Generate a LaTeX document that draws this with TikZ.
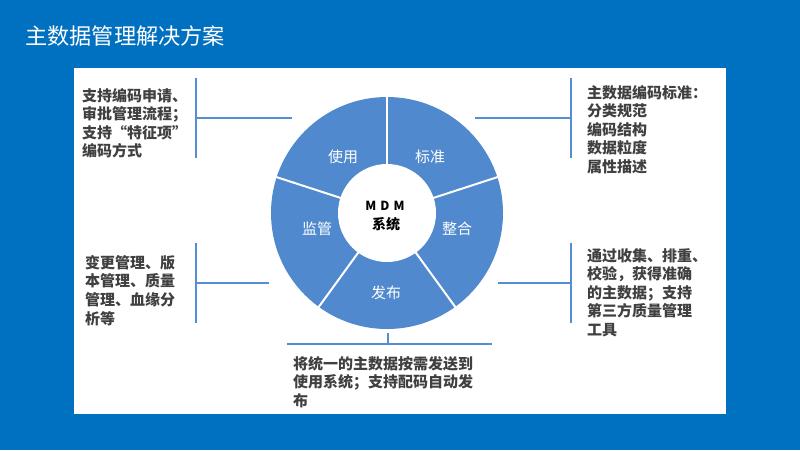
\documentclass[tikz,border=0pt]{standalone}
\usepackage{fontspec}
\setmainfont{Noto Sans CJK SC}
\definecolor{bgblue}{RGB}{0,112,192}
\definecolor{segblue}{RGB}{80,137,205}
\definecolor{lineblue}{RGB}{84,141,212}
\definecolor{txtgray}{RGB}{64,64,64}
\tikzset{
  desc/.style={anchor=north west, inner sep=0pt, align=left, text=txtgray,
    font=\fontsize{15}{18.6}\selectfont\bfseries},
  seglabel/.style={text=white, inner sep=0pt, font=\fontsize{15}{17}\selectfont},
  conn/.style={draw=lineblue, line width=1.8pt},
}
\begin{document}
\begin{tikzpicture}[x=1pt,y=-1pt]
\fill[bgblue] (0,0) rectangle (800,450);
\useasboundingbox (0,0) rectangle (800,450);
\fill[white] (74,68) rectangle (726,414);
\node[anchor=west, text=white, inner sep=0pt, font=\fontsize{22.2}{26}\selectfont] (title) at (25,36) {主数据管理解决方案};

% wheel
\begin{scope}[shift={(387,213)}, yscale=-1]
  \fill[segblue] (0,0) circle (116);
  \foreach \a in {90,18,-54,-126,162}
    \draw[white, line width=2pt] (\a:40) -- (\a:118);
  \fill[white] (0,0) circle (49);
  \coordinate (wc) at (0,0);
\end{scope}
\node[seglabel] (use) at (343,157) {使用};
\node[seglabel] (std) at (430,157) {标准};
\node[seglabel] (int) at (457,229) {整合};
\node[seglabel] (pub) at (386,293) {发布};
\node[seglabel] (mon) at (317,229) {监管};
\node[inner sep=0pt, font=\fontsize{12.5}{13}\selectfont\bfseries] (mdm) at (385,206) {M\,\,D\,\,M};
\node[inner sep=0pt, font=\fontsize{14}{15}\selectfont\bfseries] (sys) at (386,224) {系统};

% descriptions
\node[desc] (tl) at (82,88) {支持编码申请、\\审批管理流程；\\支持“特征项”\\编码方式};
\node[desc] (tr) at (587,85) {主数据编码标准：\\分类规范\\编码结构\\数据粒度\\属性描述};
\node[desc] (bl) at (85,255) {变更管理、版\\本管理、质量\\管理、血缘分\\析等};
\node[desc] (br) at (587,248) {通过收集、排重、\\校验，获得准确\\的主数据；支持\\第三方质量管理\\工具};
\node[desc] (bt) at (293,356) {将统一的主数据按需发送到\\使用系统；支持配码自动发\\布};

% connectors
\coordinate (tlv1) at (196,78); \coordinate (tlv2) at (196,158);
\coordinate (tlh) at (196,118); \coordinate (tlc) at (292,118);
\draw[conn] (tlv1) -- (tlv2); \draw[conn] (tlc) -- (tlh);
\coordinate (trv1) at (571,78); \coordinate (trv2) at (571,158);
\coordinate (trh) at (571,118); \coordinate (trc) at (475,118);
\draw[conn] (trv1) -- (trv2); \draw[conn] (trc) -- (trh);
\coordinate (blv1) at (196,243); \coordinate (blv2) at (196,323);
\coordinate (blh) at (196,283); \coordinate (blc) at (269,283);
\draw[conn] (blv1) -- (blv2); \draw[conn] (blc) -- (blh);
\coordinate (brv1) at (571,243); \coordinate (brv2) at (571,323);
\coordinate (brh) at (571,283); \coordinate (brc) at (498,283);
\draw[conn] (brv1) -- (brv2); \draw[conn] (brc) -- (brh);
\coordinate (bh1) at (287,344); \coordinate (bh2) at (492,344);
\coordinate (bt1) at (388,333); \coordinate (bt2) at (388,344);
\draw[conn] (bh1) -- (bh2); \draw[conn] (bt1) -- (bt2);
\end{tikzpicture}
\end{document}
